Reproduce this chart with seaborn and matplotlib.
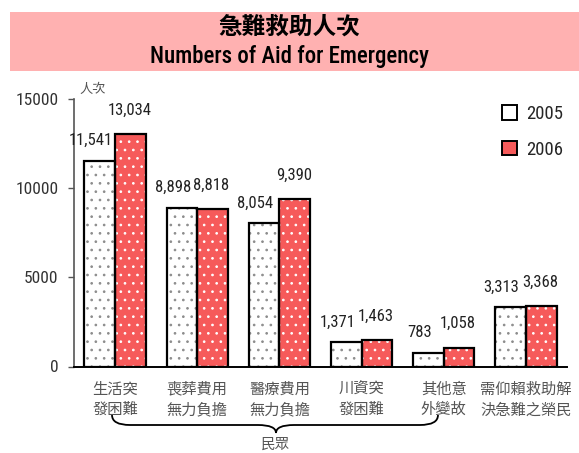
import numpy as np
import pandas as pd
import matplotlib
matplotlib.use("Agg")
import matplotlib.pyplot as plt
from matplotlib.patches import Rectangle, PathPatch
from matplotlib.path import Path
import seaborn as sns

# --- data ---
categories = ["生活突\n發困難", "喪葬費用\n無力負擔", "醫療費用\n無力負擔",
              "川資突\n發困難", "其他意\n外變故", "需仰賴救助解\n決急難之榮民"]
years = ["2005", "2006"]
aid_2005 = [11541, 8898, 8054, 1371, 783, 3313]
aid_2006 = [13034, 8818, 9390, 1463, 1058, 3368]
y_ticks = [0, 5000, 10000, 15000]

sns.set_style("white")
plt.rcParams['font.family'] = ['Roboto Condensed', 'Noto Sans CJK TC', 'DejaVu Sans']
plt.rcParams['hatch.linewidth'] = 0.7
CJK = ['Noto Sans CJK TC', 'DejaVu Sans']

df = pd.DataFrame({
    "cat": categories * 2,
    "year": [years[0]] * len(categories) + [years[1]] * len(categories),
    "count": aid_2005 + aid_2006,
})

fill_colors = {"2005": "#FFFFFF", "2006": "#F65A5A"}
hatch_colors = {"2005": "#8C8C8C", "2006": "#FFFFFF"}

fig = plt.figure(figsize=(5.79, 4.53), dpi=100)
W, H = 579, 453

# pink title band
fig.patches.append(Rectangle((10 / W, 1 - 71 / H), 1 - 10 / W, 59 / H,
                             transform=fig.transFigure, facecolor="#FFB1B1",
                             edgecolor="none", zorder=0))
fig.text(0.5, 1 - 27 / H, "急難救助人次", ha="center", va="center",
         fontsize=17, fontweight="bold", color="black", family=CJK)
fig.text(0.5, 1 - 56 / H, "Numbers of Aid for Emergency", ha="center", va="center",
         fontsize=16.5, fontweight="medium", color="black")

ax = fig.add_axes([74 / W, 1 - 366.5 / H, (567 - 74) / W, (366.5 - 99) / H])
ax.set_facecolor("none")

sns.barplot(data=df, x="cat", y="count", hue="year", order=categories,
            hue_order=years, palette=fill_colors, width=0.745, gap=0,
            edgecolor="black", linewidth=1.6, saturation=1, legend=False, ax=ax)

# hatch overlays and value labels
n = len(categories)
for i, p in enumerate(ax.patches[:2 * n]):
    yr = years[i // n]
    ax.add_patch(Rectangle((p.get_x(), 0), p.get_width(), p.get_height(),
                           facecolor="none", edgecolor=hatch_colors[yr],
                           hatch="..", linewidth=0, zorder=p.get_zorder() + 0.1))
    ax.add_patch(Rectangle((p.get_x(), 0), p.get_width(), p.get_height(),
                           facecolor="none", edgecolor="black",
                           linewidth=1.6, zorder=p.get_zorder() + 0.2))
    p.set_edgecolor("none")
    dx, dy = (-9, 20) if yr == "2005" else (-1, 24)
    ax.annotate(f"{int(p.get_height()):,}",
                (p.get_x() + p.get_width() / 2, p.get_height()),
                xytext=(dx * 0.72, dy * 0.72), textcoords="offset points",
                ha="center", va="center", fontsize=12, color="#222222")

ax.set_xlim(-0.5, n - 0.5)
ax.set_ylim(0, 15000)
ax.set_yticks(y_ticks)
ax.set_yticklabels([str(t) for t in y_ticks], fontsize=12.5, color="#333333")
ax.set_xlabel("")
ax.set_ylabel("")
ax.tick_params(axis="y", direction="out", length=4, width=1, color="#555555", pad=7, left=True)
ax.tick_params(axis="x", length=0, pad=10, labelsize=11, labelcolor="#555555")
for lbl in ax.get_xticklabels():
    lbl.set_linespacing(1.3)
    lbl.set_family(CJK)
for s in ["top", "right"]:
    ax.spines[s].set_visible(False)
ax.spines["left"].set_color("#555555")
ax.spines["left"].set_linewidth(1.2)
ax.spines["bottom"].set_color("black")
ax.spines["bottom"].set_linewidth(1.4)

# unit label
fig.text(79 / W, 1 - 89 / H, "人次", ha="left", va="center", fontsize=9.5,
         color="#555555", family=CJK)

# legend
handles = [Rectangle((0, 0), 1, 1, facecolor=fill_colors[y], edgecolor="black",
                     linewidth=1.4) for y in years]
leg = fig.legend(handles, years, loc="upper left",
                 bbox_to_anchor=(502 / W, 1 - 105 / H), frameon=False,
                 fontsize=13.5, handlelength=0.8, handleheight=0.8,
                 handletextpad=0.5, labelspacing=0.95, borderpad=0,
                 borderaxespad=0)

# brace under the first five groups
pts = [(112, 415), (112, 425), (130, 425), (258, 425), (276, 425), (276, 433),
       (276, 425), (294, 425), (420, 425), (438, 425), (438, 415)]
verts = [(x / W, 1 - y / H) for x, y in pts]
codes = [Path.MOVETO, Path.CURVE3, Path.CURVE3, Path.LINETO, Path.CURVE3, Path.CURVE3,
         Path.CURVE3, Path.CURVE3, Path.LINETO, Path.CURVE3, Path.CURVE3]
fig.patches.append(PathPatch(Path(verts, codes), transform=fig.transFigure,
                             facecolor="none", edgecolor="black", linewidth=1.3))
fig.text(276 / W, 1 - 445 / H, "民眾", ha="center", va="center", fontsize=10.5,
         color="#555555", family=CJK)

fig.savefig("out.png", dpi=100)
